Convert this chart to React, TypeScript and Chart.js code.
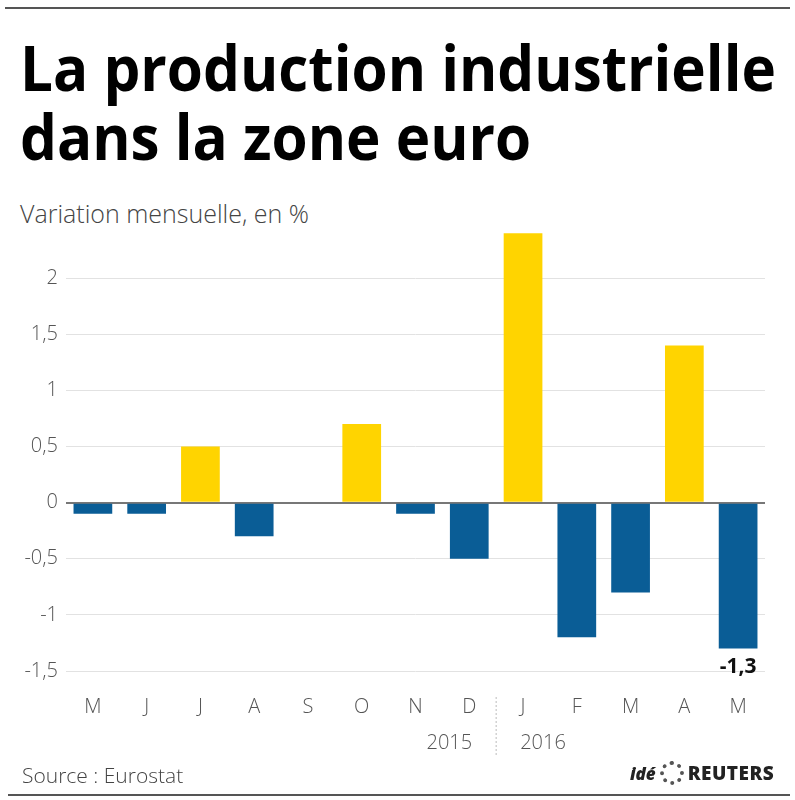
import React, { useEffect, useLayoutEffect, useRef } from "react";
import { Chart, registerables } from "chart.js";

Chart.register(...registerables);

const months = ["M", "J", "J", "A", "S", "O", "N", "D", "J", "F", "M", "A", "M"];
const values = [-0.1, -0.1, 0.5, -0.3, 0, 0.7, -0.1, -0.5, 2.4, -1.2, -0.8, 1.4, -1.3];
const yearLabels = ["2015", "2016"];
const yTicks = [-1.5, -1, -0.5, 0, 0.5, 1, 1.5, 2];
const highlightIndex = 12;

const BLUE = "#0a5d96";
const YELLOW = "#ffd400";

const fmt = (v: number) => String(v).replace(".", ",");

const extrasPlugin = {
  id: "extras",
  afterDatasetsDraw(chart: any) {
    const { ctx, scales } = chart;
    const x = scales.x;
    const y = scales.y;
    ctx.save();
    const v = values[highlightIndex];
    ctx.font = "bold 21px 'Open Sans', sans-serif";
    ctx.fillStyle = "#111";
    ctx.textAlign = "center";
    ctx.textBaseline = "top";
    ctx.fillText(fmt(v), x.getPixelForValue(highlightIndex), y.getPixelForValue(v) + 8);

    const xd = (x.getPixelForValue(7) + x.getPixelForValue(8)) / 2;
    ctx.strokeStyle = "#bbb";
    ctx.lineWidth = 1;
    ctx.setLineDash([2, 2]);
    ctx.beginPath();
    ctx.moveTo(xd, y.bottom + 26);
    ctx.lineTo(xd, y.bottom + 84);
    ctx.stroke();
    ctx.setLineDash([]);

    ctx.font = "300 20px 'Open Sans', sans-serif";
    ctx.fillStyle = "#555";
    ctx.textBaseline = "middle";
    ctx.textAlign = "right";
    ctx.fillText(yearLabels[0], xd - 24, y.bottom + 72);
    ctx.textAlign = "left";
    ctx.fillText(yearLabels[1], xd + 24, y.bottom + 72);
    ctx.restore();
  },
};

export default function App() {
  const canvasRef = useRef<HTMLCanvasElement | null>(null);
  const line1Ref = useRef<HTMLSpanElement | null>(null);
  const line2Ref = useRef<HTMLSpanElement | null>(null);

  useLayoutEffect(() => {
    const a = line1Ref.current;
    const b = line2Ref.current;
    if (!a || !b) return;
    const w1 = a.getBoundingClientRect().width;
    const k = 756 / w1;
    a.style.transform = `scaleX(${k})`;
    b.style.transform = `scaleX(${k})`;
  }, []);

  useEffect(() => {
    if (!canvasRef.current) return;
    const chart = new Chart(canvasRef.current, {
      type: "bar",
      data: {
        labels: months,
        datasets: [
          {
            data: values,
            backgroundColor: values.map((v) => (v >= 0 ? YELLOW : BLUE)),
            borderWidth: 0,
            categoryPercentage: 0.72,
            barPercentage: 1,
          },
        ],
      },
      options: {
        animation: false,
        responsive: false,
        maintainAspectRatio: false,
        layout: { padding: { left: 0, right: 30, top: 222, bottom: 0 } },
        plugins: {
          legend: { display: false },
          tooltip: { enabled: false },
          title: { display: false },
        },
        scales: {
          x: {
            grid: { display: false, drawTicks: false },
            border: { display: false },
            ticks: {
              padding: 24,
              color: "#555",
              font: { family: "'Open Sans', sans-serif", size: 20, weight: "300" as any },
              maxRotation: 0,
              autoSkip: false,
            },
            afterFit: (s: any) => {
              s.height = 129;
            },
          },
          y: {
            min: -1.5,
            max: 2.5,
            afterBuildTicks: (s: any) => {
              s.ticks = [...yTicks, 2.5].map((v) => ({ value: v }));
            },
            grid: {
              drawTicks: false,
              color: (c: any) =>
                c.tick && c.tick.value === 0 ? "#777" : c.tick && c.tick.value > 2 ? "rgba(0,0,0,0)" : "#e2e2e2",
              lineWidth: (c: any) => (c.tick && c.tick.value === 0 ? 2 : 1),
            },
            border: { display: false },
            ticks: {
              padding: 8,
              color: "#555",
              font: { family: "'Open Sans', sans-serif", size: 20, weight: "300" as any },
              callback: (v: any) => (Number(v) > 2 ? "" : fmt(Number(v))),
            },
            afterFit: (s: any) => {
              s.width = 66;
            },
          },
        },
      },
      plugins: [extrasPlugin],
    });
    return () => chart.destroy();
  }, []);

  const titleLine: React.CSSProperties = {
    display: "block",
    width: "max-content",
    transformOrigin: "0 0",
    whiteSpace: "nowrap",
  };

  return (
    <div style={{ position: "absolute", left: 0, top: 0, width: 795, height: 800, background: "#fff", overflow: "hidden" }}>
      <div style={{ position: "absolute", left: 5, top: 7, width: 785, height: 2, background: "#555" }} />
      <div
        style={{
          position: "absolute",
          left: 20,
          top: 33,
          fontFamily: "'Open Sans', sans-serif",
          fontWeight: 700,
          fontSize: 62,
          lineHeight: "69px",
          color: "#000",
        }}
      >
        <span ref={line1Ref} style={titleLine}>La production industrielle</span>
        <span ref={line2Ref} style={titleLine}>dans la zone euro</span>
      </div>
      <div
        style={{
          position: "absolute",
          left: 20,
          top: 196,
          fontFamily: "'Open Sans', sans-serif",
          fontWeight: 300,
          fontSize: 25,
          color: "#444",
          whiteSpace: "nowrap",
        }}
      >
        Variation mensuelle, en %
      </div>
      <canvas ref={canvasRef} width={795} height={800} style={{ position: "absolute", left: 0, top: 0 }} />
      <div
        style={{
          position: "absolute",
          left: 22,
          top: 761,
          fontFamily: "'Open Sans', sans-serif",
          fontWeight: 300,
          fontSize: 21,
          color: "#444",
          whiteSpace: "nowrap",
        }}
      >
        Source : Eurostat
      </div>
      <div
        style={{
          position: "absolute",
          left: 630,
          top: 760,
          display: "flex",
          alignItems: "center",
          gap: 4,
          fontFamily: "'Open Sans', sans-serif",
          color: "#222",
          whiteSpace: "nowrap",
        }}
      >
        <span style={{ fontStyle: "italic", fontWeight: 800, fontSize: 17 }}>idé</span>
        <span
          style={{
            display: "inline-block",
            width: 24,
            height: 24,
            borderRadius: "50%",
            border: "4px dotted #555",
            boxSizing: "border-box",
          }}
        />
        <span style={{ fontWeight: 800, fontSize: 19, letterSpacing: 0.5 }}>REUTERS</span>
      </div>
      <div style={{ position: "absolute", left: 8, top: 794, width: 782, height: 2, background: "#555" }} />
    </div>
  );
}
